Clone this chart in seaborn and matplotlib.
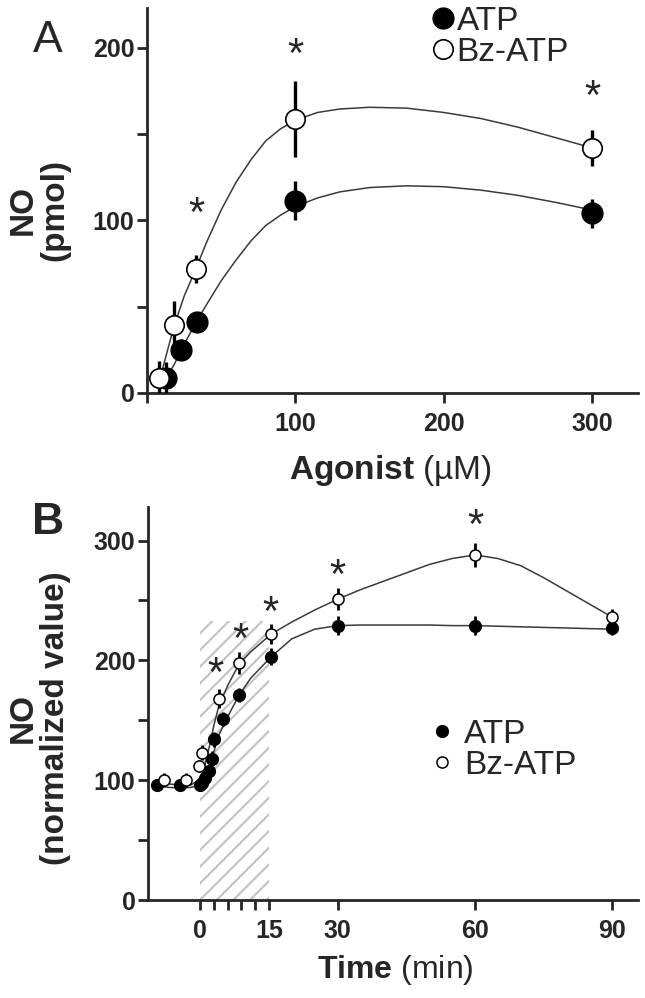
import matplotlib
matplotlib.use("Agg")
import matplotlib.pyplot as plt
import seaborn as sns

# ---- panel A: dose response ----
atp_conc = [13, 23, 34, 100, 300]
atp_no = [8.7, 25, 41, 111.5, 104]
atp_err = [9, 6, 5, 11.5, 8.5]
bz_conc = [8, 18, 33, 100, 300]
bz_no = [8.7, 39.5, 72, 158.5, 142]
bz_err = [10, 13.5, 8, 22, 10.5]
a_stars_x = [33, 100, 300]
a_stars_y = [103, 195, 171]
# fitted curves
a_fit_x = [8, 13, 18, 25, 33, 40, 50, 60, 70, 80, 90, 100, 115, 130, 150, 175, 200, 225, 250, 275, 300]
a_fit_atp = [4, 9, 16, 28, 41, 51, 65, 77, 88, 97, 103, 108, 113, 116.5, 119, 120, 119.5, 117.5, 114.5, 110.5, 106]
a_fit_bz = [6, 22, 38, 56, 72, 87, 106, 122, 135, 146, 153, 158, 162.5, 164.5, 165.5, 165, 162.5, 159, 154, 148, 142]

# ---- panel B: time course ----
atp_t = [-9.5, -4.5, 0, 0.5, 1, 2, 2.5, 3, 5, 8.5, 15.5, 30, 60, 90]
atp_val = [96, 96, 96, 98, 102, 108, 118, 134, 151, 171, 203, 229, 229, 227]
atp_t_err = [5, 5, 5, 5, 5, 5, 6, 6, 6, 6, 7, 8, 8, 6]
bz_t = [-8, -3, -0.3, 0.4, 4, 8.5, 15.5, 30, 60, 90]
bz_val = [100, 100, 112, 123, 168, 198, 222, 251, 288, 236]
bz_t_err = [6, 6, 5, 6, 8, 9, 8, 9, 10, 7]
b_stars_x = [3.3, 8.7, 15.4, 30, 60]
b_stars_y = [188, 216, 239, 270, 311]
b_fit_t = [-9.5, -7, -4, -2, 0, 1, 2, 3, 4, 6, 8.5, 11, 15.5, 20, 25, 30, 35, 40, 45, 50, 55, 60, 65, 70, 75, 80, 85, 90]
b_fit_atp = [96, 94, 93.5, 94, 96, 100, 110, 124, 137, 153, 171, 185, 203, 218, 226, 229, 229.5, 229.5, 229.5, 229.5, 229, 229, 228.5, 228, 227.5, 227, 226.5, 226]
b_fit_bz = [99, 97, 95.5, 96, 101, 112, 128, 146, 161, 179, 197, 207, 222, 232, 242, 251, 259, 266, 273, 280, 285, 288, 285, 279, 269, 258, 247, 236]
stim_window = (0, 15)
stim_top = 233

sns.set_style("ticks")
plt.rcParams["font.family"] = ["Liberation Sans", "DejaVu Sans"]
plt.rcParams["mathtext.fontset"] = "custom"
plt.rcParams["mathtext.bf"] = "Liberation Sans:bold"
plt.rcParams["mathtext.rm"] = "Liberation Sans"
plt.rcParams["hatch.linewidth"] = 1.6
plt.rcParams["hatch.color"] = "#c4c4c4"

W, H = 645, 998
fig = plt.figure(figsize=(W / 100, H / 100), dpi=100)
axA = fig.add_axes([147 / W, 1 - 393 / H, 491 / W, 385 / H])
axB = fig.add_axes([148 / W, 1 - 900 / H, 490 / W, 393 / H])

line_col = "#3a3a3a"


def style_axis(ax):
    sns.despine(ax=ax)
    for s in ["left", "bottom"]:
        ax.spines[s].set_linewidth(2)
    ax.tick_params(axis="both", which="both", length=7.5, width=2, direction="out")
    ax.tick_params(axis="x", pad=6)
    ax.tick_params(axis="y", pad=1.5)
    for lab in ax.get_xticklabels() + ax.get_yticklabels():
        lab.set_fontweight("bold")
        lab.set_fontsize(18)


# ---------- Panel A ----------
sns.lineplot(x=a_fit_x, y=a_fit_atp, ax=axA, color=line_col, lw=1.1, sort=False)
sns.lineplot(x=a_fit_x, y=a_fit_bz, ax=axA, color=line_col, lw=1.1, sort=False)
axA.errorbar(atp_conc, atp_no, yerr=atp_err, fmt="none", ecolor="black", elinewidth=2.4, capsize=0, zorder=3)
axA.errorbar(bz_conc, bz_no, yerr=bz_err, fmt="none", ecolor="black", elinewidth=2.4, capsize=0, zorder=3)
axA.plot(atp_conc, atp_no, "o", ms=15, mfc="black", mec="black", zorder=4, label="ATP")
axA.plot(bz_conc, bz_no, "o", ms=14, mfc="white", mec="black", mew=1.2, zorder=5, label="Bz-ATP")
for x, y in zip(a_stars_x, a_stars_y):
    axA.text(x, y, "*", ha="center", va="center", fontsize=30)
axA.set_xlim(0, 331)
axA.set_ylim(0, 223)
axA.set_xticks([0, 100, 200, 300])
axA.set_xticklabels(["", "100", "200", "300"])
axA.set_yticks([0, 50, 100, 150, 200])
axA.set_yticklabels(["0", "", "100", "", "200"])
axA.set_xlabel("")
axA.set_ylabel("")
style_axis(axA)
axA.legend(loc="upper left", bbox_to_anchor=((430 - 147) / 491, (393 - 6) / 385), frameon=False,
           fontsize=24, handletextpad=0.0, handlelength=0.8, labelspacing=0.0,
           borderaxespad=0, borderpad=0)

# ---------- Panel B ----------
axB.axvspan(stim_window[0], stim_window[1], ymin=0, ymax=stim_top / 328, facecolor="white",
            hatch="//", edgecolor="#c4c4c4", linewidth=0, zorder=0)
sns.lineplot(x=b_fit_t, y=b_fit_atp, ax=axB, color=line_col, lw=1.1, sort=False)
sns.lineplot(x=b_fit_t, y=b_fit_bz, ax=axB, color=line_col, lw=1.1, sort=False)
axB.errorbar(atp_t, atp_val, yerr=atp_t_err, fmt="none", ecolor="black", elinewidth=2, capsize=0, zorder=3)
axB.errorbar(bz_t, bz_val, yerr=bz_t_err, fmt="none", ecolor="black", elinewidth=2, capsize=0, zorder=3)
axB.plot(atp_t, atp_val, "o", ms=8.5, mfc="black", mec="black", zorder=4, label="ATP")
axB.plot(bz_t, bz_val, "o", ms=8, mfc="white", mec="black", mew=1.1, zorder=5, label="Bz-ATP")
for x, y in zip(b_stars_x, b_stars_y):
    axB.text(x, y, "*", ha="center", va="center", fontsize=30)
axB.set_xlim(-11.4, 95.6)
axB.set_ylim(0, 328)
axB.set_xticks([0, 3, 6, 9, 12, 15, 30, 60, 90])
axB.set_xticklabels(["0", "", "", "", "", "15", "30", "60", "90"])
axB.set_yticks([0, 50, 100, 150, 200, 250, 300])
axB.set_yticklabels(["0", "", "100", "", "200", "", "300"])
axB.set_xlabel("")
axB.set_ylabel("")
style_axis(axB)
axB.legend(loc="upper left", bbox_to_anchor=((429 - 148) / 490, (900 - 719) / 393), frameon=False,
           fontsize=24, handletextpad=0.25, handlelength=0.8, labelspacing=0.0,
           borderaxespad=0, borderpad=0)

# ---------- labels ----------
fig.text(48 / W, 1 - 41 / H, "A", fontsize=32, ha="center", va="center")
fig.text(48 / W, 1 - 523 / H, "B", fontsize=32, fontweight="bold", ha="center", va="center")
fig.text(39 / W, 1 - 210 / H, "NO\n(pmol)", rotation=90, fontsize=24, fontweight="bold",
         ha="center", va="center", linespacing=1.05)
fig.text(39 / W, 1 - 718 / H, "NO\n(normalized value)", rotation=90, fontsize=24, fontweight="bold",
         ha="center", va="center", linespacing=1.05)
fig.text(390 / W, 1 - 470 / H, r"$\mathbf{Agonist}$ (µM)", fontsize=24, ha="center", va="center")
fig.text(395 / W, 1 - 970 / H, r"$\mathbf{Time}$ (min)", fontsize=23, ha="center", va="center")

fig.savefig("out.png", dpi=100)
